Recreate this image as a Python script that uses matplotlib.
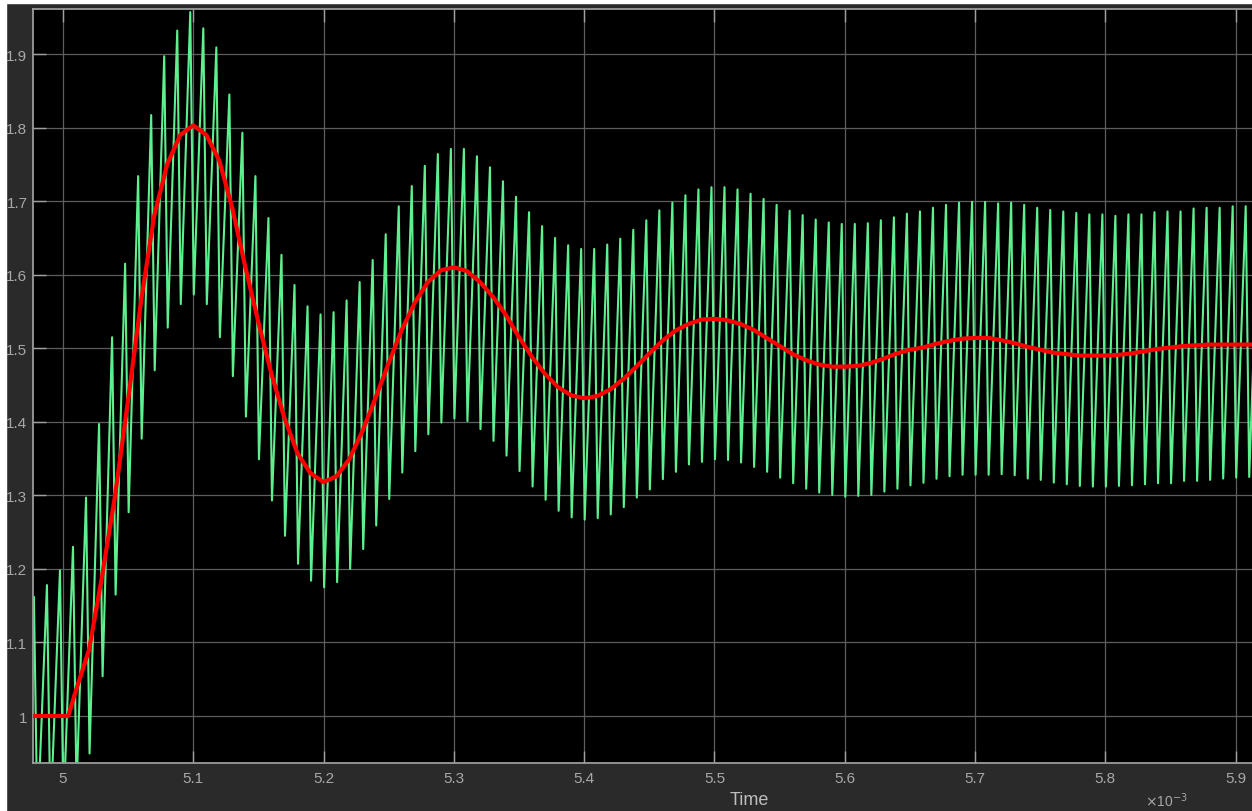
import numpy as np
from matplotlib import pyplot as plt
from matplotlib.patches import Rectangle
from matplotlib.ticker import FuncFormatter

# scope capture: ripple signal (green) and its averaged value (red)
# times in ms, plotted in seconds

# green: one peak and one trough per switching period
period_ms = 0.01
first_peak_ms = 4.9777
rise_ms = 0.0073   # trough -> peak

peaks = [1.162, 1.178, 1.198, 1.23, 1.297, 1.397, 1.515, 1.615, 1.734, 1.817,
         1.897, 1.932, 1.957, 1.935, 1.909, 1.845, 1.793, 1.734, 1.677, 1.627,
         1.586, 1.557, 1.546, 1.549, 1.565, 1.59, 1.62, 1.655, 1.693, 1.7205,
         1.748, 1.764, 1.771, 1.771, 1.761, 1.746, 1.727, 1.706, 1.685, 1.666,
         1.650, 1.640, 1.635, 1.635, 1.641, 1.649, 1.661, 1.674, 1.6875, 1.698,
         1.708, 1.716, 1.719, 1.719, 1.716, 1.710, 1.703, 1.695, 1.687, 1.681,
         1.675, 1.671, 1.669, 1.669, 1.670, 1.674, 1.678, 1.683, 1.686, 1.691,
         1.695, 1.698, 1.699, 1.699, 1.697, 1.698, 1.695, 1.691, 1.688, 1.686,
         1.684, 1.682, 1.682, 1.680, 1.682, 1.682, 1.685, 1.686, 1.686, 1.690,
         1.691, 1.691, 1.693, 1.693, 1.693]

troughs = [0.84, 0.85, 0.86, 0.87, 0.90, 0.949, 1.054, 1.165, 1.277, 1.377,
           1.47, 1.528, 1.56, 1.573, 1.560, 1.515, 1.462, 1.407, 1.349, 1.293,
           1.245, 1.207, 1.184, 1.175, 1.182, 1.200, 1.227, 1.259, 1.295, 1.331,
           1.360, 1.383, 1.399, 1.4045, 1.401, 1.390, 1.374, 1.354, 1.333, 1.312,
           1.294, 1.279, 1.270, 1.267, 1.269, 1.274, 1.284, 1.297, 1.308, 1.322,
           1.332, 1.342, 1.3455, 1.349, 1.348, 1.3446, 1.3387, 1.332, 1.324, 1.3165,
           1.309, 1.3037, 1.3005, 1.298, 1.2992, 1.3005, 1.305, 1.309, 1.3135, 1.317,
           1.3225, 1.326, 1.328, 1.328, 1.328, 1.3287, 1.3273, 1.3228, 1.321, 1.3173,
           1.315, 1.3128, 1.3119, 1.3119, 1.3128, 1.3137, 1.315, 1.3164, 1.3164, 1.3196,
           1.3196, 1.321, 1.3228, 1.3242, 1.325, 1.325]

# red: mean value
red_t_ms = [4.97, 5.004, 5.01, 5.02, 5.03, 5.04, 5.05, 5.06, 5.07, 5.08, 5.09,
            5.10, 5.11, 5.12, 5.13, 5.14, 5.15, 5.16, 5.17, 5.18, 5.19,
            5.20, 5.21, 5.22, 5.23, 5.24, 5.25, 5.26, 5.27, 5.28, 5.29,
            5.30, 5.31, 5.32, 5.33, 5.34, 5.35, 5.36, 5.37, 5.38, 5.39,
            5.40, 5.41, 5.42, 5.43, 5.44, 5.45, 5.46, 5.47, 5.48, 5.49,
            5.50, 5.51, 5.52, 5.53, 5.54, 5.55, 5.56, 5.57, 5.58, 5.59,
            5.60, 5.61, 5.62, 5.63, 5.64, 5.65, 5.66, 5.67, 5.68, 5.69,
            5.70, 5.71, 5.72, 5.73, 5.74, 5.75, 5.76, 5.77, 5.78, 5.79,
            5.80, 5.81, 5.82, 5.83, 5.84, 5.85, 5.86, 5.87, 5.88, 5.89,
            5.90, 5.91, 5.92, 5.93]
red_v = [1.0, 1.0, 1.035, 1.09, 1.19, 1.30, 1.43, 1.565, 1.68, 1.75, 1.79,
         1.803, 1.79, 1.755, 1.69, 1.61, 1.535, 1.465, 1.405, 1.357, 1.33,
         1.318, 1.326, 1.35, 1.388, 1.433, 1.48, 1.525, 1.562, 1.59, 1.606,
         1.61, 1.605, 1.59, 1.57, 1.545, 1.515, 1.488, 1.465, 1.447, 1.436,
         1.432, 1.435, 1.444, 1.458, 1.475, 1.493, 1.51, 1.524, 1.533, 1.539,
         1.54, 1.538, 1.533, 1.525, 1.514, 1.503, 1.492, 1.484, 1.478, 1.475,
         1.475, 1.476, 1.48, 1.486, 1.493, 1.498, 1.501, 1.506, 1.51, 1.513,
         1.514, 1.514, 1.511, 1.507, 1.502, 1.498, 1.494, 1.492, 1.49, 1.49,
         1.49, 1.491, 1.493, 1.496, 1.499, 1.501, 1.503, 1.504, 1.505, 1.505,
         1.505, 1.505, 1.505, 1.505]

xticks_ms = [5.0, 5.1, 5.2, 5.3, 5.4, 5.5, 5.6, 5.7, 5.8, 5.9]
yticks = [1.0, 1.1, 1.2, 1.3, 1.4, 1.5, 1.6, 1.7, 1.8, 1.9]

# build the zigzag: trough, peak, trough, peak ... trough
peak_t = first_peak_ms + period_ms * np.arange(len(peaks))
trough_t = first_peak_ms - rise_ms + period_ms * np.arange(len(troughs))
g_t = []
g_v = []
for i in range(len(troughs)):
    g_t.append(trough_t[i])
    g_v.append(troughs[i])
    if i < len(peaks):
        g_t.append(peak_t[i])
        g_v.append(peaks[i])
g_t = np.array(g_t) * 1e-3
r_t = np.array(red_t_ms) * 1e-3

plt.rcParams['font.family'] = ['Liberation Sans', 'DejaVu Sans']

W, H = 1252, 812
fig = plt.figure(figsize=(W / 100, H / 100), dpi=100, facecolor='#2a2a2a')
# white edges of the screenshot
fig.patches.append(Rectangle((0, 1 - 4 / H), 1, 4 / H, transform=fig.transFigure,
                             color='white', zorder=0))
fig.patches.append(Rectangle((0, 0), 6 / W, 1, transform=fig.transFigure,
                             color='white', zorder=0))

left, right = 33, 1277
bottom, top = 764, 9.5
ax = fig.add_axes([left / W, 1 - bottom / H, (right - left) / W, (bottom - top) / H])
ax.set_facecolor('black')

ax.plot(g_t, g_v, color='#5ef08e', linewidth=1.5, zorder=2)
ax.plot(r_t, red_v, color='#ff0000', linewidth=3.0, zorder=3)

px_per_ms = 1303.0
x0 = 4.977
ax.set_xlim(x0 * 1e-3, (x0 + (right - left) / px_per_ms) * 1e-3)
ax.set_ylim(0.9361, 1.9619)
ax.set_xticks(np.array(xticks_ms) * 1e-3)
ax.set_yticks(yticks)
ax.xaxis.set_major_formatter(FuncFormatter(lambda v, p: f"{v * 1e3:g}"))
ax.yaxis.set_major_formatter(FuncFormatter(lambda v, p: f"{v:g}"))

ax.grid(True, color='#5e5e5e', linewidth=0.9)
ax.set_axisbelow(True)
ax.tick_params(direction='in', length=9, width=1, color='#a0a0a0',
               labelcolor='#a8a8a8', labelsize=11, top=True, right=True)
ax.tick_params(axis='x', pad=6)
ax.tick_params(axis='y', pad=4)
for s in ax.spines.values():
    s.set_color('#9c9c9c')
    s.set_linewidth(1.3)

fig.text(749 / W, 1 - 801 / H, 'Time', color='#bdbdbd', fontsize=13,
         ha='center', va='center')
fig.text(1188 / W, 1 - 807 / H, r'$\times$10$^{-3}$', color='#a8a8a8', fontsize=10,
         ha='right', va='baseline')

fig.savefig('out.png', dpi=100, facecolor=fig.get_facecolor())
